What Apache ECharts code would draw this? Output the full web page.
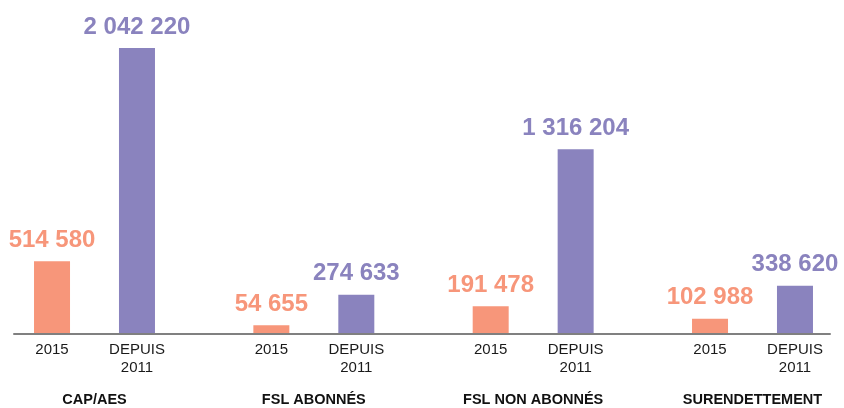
<!DOCTYPE html>
<html><head><meta charset="utf-8">
<script src="https://cdn.jsdelivr.net/npm/echarts@6/dist/echarts.min.js"></script>
<style>html,body{margin:0;padding:0;background:#fff}#c{width:844px;height:408px}</style>
</head><body><div id="c"></div>
<script>
const groups = ['CAP/AES', 'FSL ABONNÉS', 'FSL NON ABONNÉS', 'SURENDETTEMENT'];
const seriesNames = ['2015', 'DEPUIS 2011'];
const tickTop = ['2015', 'DEPUIS'];
const tickBottom = ['', '2011'];
const values2015 = [514580, 54655, 191478, 102988];
const valuesSince2011 = [2042220, 274633, 1316204, 338620];

const ORANGE = '#F7967A';
const PURPLE = '#8A83BE';
const FONT = '"Liberation Sans", Arial, sans-serif';

function fmt(v){ return String(v).replace(/\B(?=(\d{3})+(?!\d))/g, ' '); }

const chart = echarts.init(document.getElementById('c'), null, {renderer:'canvas'});
const valueLabel = (color) => ({
  show: true, position: 'top', distance: 9,
  color: color, fontFamily: FONT, fontWeight: 'bold', fontSize: 24,
  formatter: p => fmt(p.value)
});
chart.setOption({
  animation: false,
  backgroundColor: '#fff',
  grid: [
    {left: 94.5, right: 91.5, top: 0, bottom: 75},
    {left: 14, right: 14, top: 0, bottom: 74}
  ],
  xAxis: [
    {type: 'category', gridIndex: 0, data: groups, boundaryGap: false,
     axisLine: {show: false}, axisTick: {show: false},
     axisLabel: {
       interval: 0, margin: 8, fontFamily: FONT, color: '#1a1a1a',
       formatter: g => `{a|${tickTop[0]}}{b|${tickTop[1]}}\n{a| }{b|${tickBottom[1]}}\n{c|${g}}`,
       rich: {
         a: {width: 85, align: 'center', fontSize: 15, lineHeight: 18, fontFamily: FONT, color: '#1a1a1a'},
         b: {width: 85, align: 'center', fontSize: 15, lineHeight: 18, fontFamily: FONT, color: '#1a1a1a'},
         c: {width: 170, align: 'center', fontSize: 14.5, fontWeight: 'bold', lineHeight: 46, fontFamily: FONT, color: '#111'}
       }
     }},
    {type: 'category', gridIndex: 1, data: [''],
     axisLine: {show: true, lineStyle: {color: '#808080', width: 2}},
     axisTick: {show: false}, axisLabel: {show: false}}
  ],
  yAxis: [
    {type: 'value', gridIndex: 0, min: 0, max: 2386000, show: false, splitLine: {show: false}},
    {type: 'value', gridIndex: 1, min: 0, max: 1, show: false, splitLine: {show: false}}
  ],
  series: [
    {name: seriesNames[0], type: 'bar', xAxisIndex: 0, yAxisIndex: 0,
     data: values2015, barWidth: 36, barGap: '136%',
     itemStyle: {color: ORANGE}, label: valueLabel(ORANGE)},
    {name: seriesNames[1], type: 'bar', xAxisIndex: 0, yAxisIndex: 0,
     data: valuesSince2011, barWidth: 36, barGap: '136%',
     itemStyle: {color: PURPLE}, label: valueLabel(PURPLE)}
  ]
});
</script></body></html>
